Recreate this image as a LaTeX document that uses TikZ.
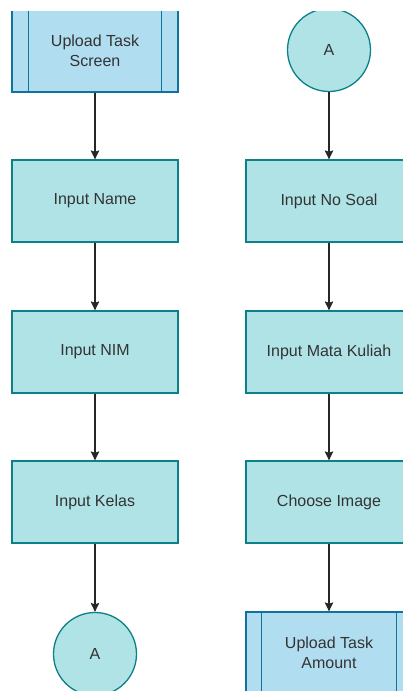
\documentclass[tikz,border=0pt]{standalone}
\usepackage{fontspec}
\setmainfont{Liberation Sans}
\usetikzlibrary{arrows.meta}
\definecolor{tfill}{HTML}{B0E3E6}
\definecolor{tline}{HTML}{0E8088}
\definecolor{bfill}{HTML}{B1DDF0}
\definecolor{bline}{HTML}{10739E}
\definecolor{txt}{HTML}{333333}
\tikzset{
  procbox/.style={draw=tline, fill=tfill, line width=1.3pt, minimum width=166pt, minimum height=82pt, inner sep=0pt, text=txt, align=center, font=\fontsize{16}{20}\selectfont},
  subbox/.style={procbox, draw=bline, fill=bfill},
  conn/.style={draw=tline, fill=tfill, line width=1.3pt, circle, minimum size=83pt, inner sep=0pt, text=txt, font=\fontsize{16}{20}\selectfont},
  flow/.style={draw=black!85, line width=1.1pt, -{Stealth[length=9pt,width=8.5pt,inset=1.5pt]}},
  subline/.style={draw=bline, line width=1.3pt}
}
\begin{document}
\begin{tikzpicture}[x=1pt,y=-1pt]
\useasboundingbox[fill=white] (0,0) rectangle (402,691);
\begin{scope}
\clip (-20,11) rectangle (440,720);
\node[subbox] (u1) at (95,51) {Upload Task\\Screen};
\draw[subline] ([xshift=17pt]u1.north west) -- ([xshift=17pt]u1.south west);
\draw[subline] ([xshift=-17pt]u1.north east) -- ([xshift=-17pt]u1.south east);
\node[procbox] (n1) at (95,201) {Input Name};
\node[procbox] (n2) at (95,352) {Input NIM};
\node[procbox] (n3) at (95,502) {Input Kelas};
\node[conn] (c1) at (95,654) {A};
\node[conn] (c2) at (329,50) {A};
\node[procbox] (m1) at (329,201) {Input No Soal};
\node[procbox] (m2) at (329,352) {Input Mata Kuliah};
\node[procbox] (m3) at (329,502) {Choose Image};
\node[subbox] (u2) at (329,653) {Upload Task\\Amount};
\draw[subline] ([xshift=16pt]u2.north west) -- ([xshift=16pt]u2.south west);
\draw[subline] ([xshift=-16pt]u2.north east) -- ([xshift=-16pt]u2.south east);
\draw[flow] (u1) -- (n1);
\draw[flow] (n1) -- (n2);
\draw[flow] (n2) -- (n3);
\draw[flow] (n3) -- (c1);
\draw[flow] (c2) -- (m1);
\draw[flow] (m1) -- (m2);
\draw[flow] (m2) -- (m3);
\draw[flow] (m3) -- (u2);
\end{scope}
\end{tikzpicture}
\end{document}
